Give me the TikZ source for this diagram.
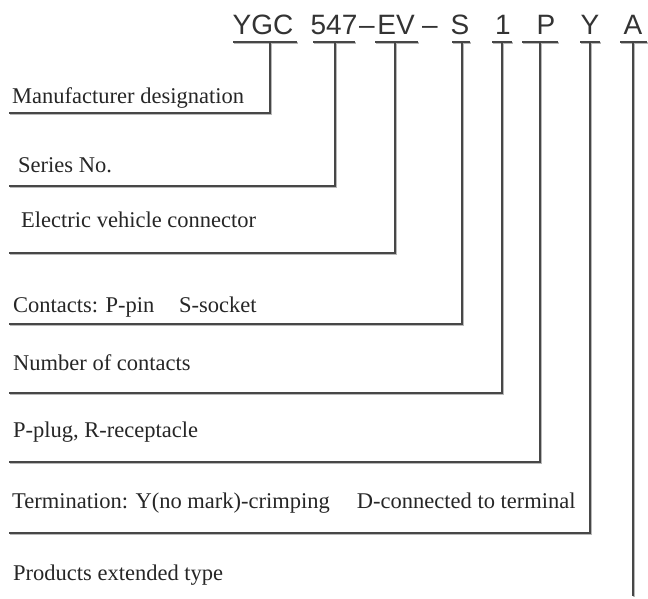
\documentclass[tikz,border=0pt]{standalone}
\usepackage{fontspec}
\setmainfont{Liberation Serif}
\newfontfamily\codefont{Liberation Sans}
\begin{document}
\begin{tikzpicture}[x=1pt,y=-1pt,
  code/.style={font=\codefont\fontsize{28}{30}\selectfont, anchor=base, inner sep=0pt, text=black!80},
  lbl/.style={font=\fontsize{22.5}{26}\selectfont, anchor=base west, inner sep=0pt, text=black!85},
  ln/.style={draw=black!72, line width=1.3pt,
    preaction={draw=black!28, line width=1.3pt, transform canvas={shift={(0.9pt,-0.9pt)}}}}]
\useasboundingbox (0,0) rectangle (648,599);
% code letters
\node[code] (cYGC) at (263,35) {YGC};
\node[code] (c547) at (334,35) {547};
\node[code] (d1) at (367,35) {–};
\node[code] (cEV) at (396,35) {EV};
\node[code] (d2) at (430,35) {–};
\node[code] (cS) at (460,35) {S};
\node[code] (c1) at (503,35) {1};
\node[code] (cP) at (546,35) {P};
\node[code] (cY) at (590,35) {Y};
\node[code] (cA) at (633,35) {A};
% labels
\node[lbl] (l1) at (12,104) {Manufacturer designation};
\node[lbl] (l2) at (18,172) {Series No.};
\node[lbl] (l3) at (21,227) {Electric vehicle connector};
\node[lbl] (l4) at (13,312) {Contacts: P-pin\hspace{1.1em}S-socket};
\node[lbl] (l5) at (13,370) {Number of contacts};
\node[lbl] (l6) at (13,437) {P-plug, R-receptacle};
\node[lbl] (l7) at (12,508) {Termination: Y(no mark)-crimping\hspace{1.2em}D-connected to terminal};
\node[lbl] (l8) at (13,580) {Products extended type};
% tee points under code letters
\coordinate (t1) at (270,42); \coordinate (t2) at (335,42); \coordinate (t3) at (395,42);
\coordinate (t4) at (462,42); \coordinate (t5) at (502,42); \coordinate (t6) at (540,42);
\coordinate (t7) at (590,42); \coordinate (t8) at (633,42);
% left ends of label lines
\coordinate (h1) at (9,113); \coordinate (h2) at (9,186); \coordinate (h3) at (9,253);
\coordinate (h4) at (9,324); \coordinate (h5) at (9,393); \coordinate (h6) at (9,462);
\coordinate (h7) at (9,533); \coordinate (e8) at (633,596);
% underline bars
\draw[ln] (233,42) -- (297,42);
\draw[ln] (313,42) -- (355,42);
\draw[ln] (375,42) -- (418,42);
\draw[ln] (452,42) -- (470,42);
\draw[ln] (492,42) -- (512,42);
\draw[ln] (522,42) -- (558,42);
\draw[ln] (580,42) -- (600,42);
\draw[ln] (620,42) -- (647,42);
% connectors
\draw[ln] (t1) |- (h1);
\draw[ln] (t2) |- (h2);
\draw[ln] (t3) |- (h3);
\draw[ln] (t4) |- (h4);
\draw[ln] (t5) |- (h5);
\draw[ln] (t6) |- (h6);
\draw[ln] (t7) |- (h7);
\draw[ln] (t8) -- (e8);
\end{tikzpicture}
\end{document}
